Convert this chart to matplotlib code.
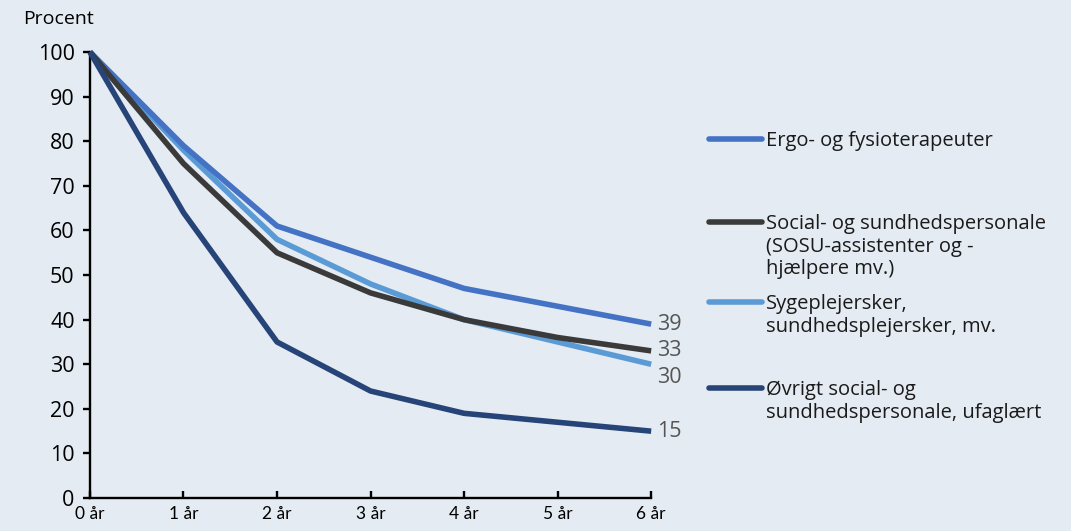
import matplotlib
matplotlib.use("Agg")
import matplotlib.pyplot as plt
from matplotlib.lines import Line2D

# data
years = [0, 1, 2, 3, 4, 5, 6]
year_labels = ["0 år", "1 år", "2 år", "3 år", "4 år", "5 år", "6 år"]

ergo = [100, 79, 61, 54, 47, 43, 39]
sosu = [100, 75, 55, 46, 40, 36, 33]
syge = [100, 78, 58, 48, 40, 35, 30]
ovrigt = [100, 64, 35, 24, 19, 17, 15]

names = [
    "Ergo- og fysioterapeuter",
    "Social- og sundhedspersonale\n(SOSU-assistenter og -\nhjælpere mv.)",
    "Sygeplejersker,\nsundhedsplejersker, mv.",
    "Øvrigt social- og\nsundhedspersonale, ufaglært",
]
series = [ergo, sosu, syge, ovrigt]
colors = ["#4472C4", "#3A3A3A", "#5B9BD5", "#264478"]
end_label_y = [39, 33, 27, 15]

bg = "#E4EBF2"
plt.rcParams["font.family"] = ["Open Sans", "DejaVu Sans"]

fig = plt.figure(figsize=(10.71, 5.31), dpi=100, facecolor=bg)
ax = fig.add_axes([0.084, 0.062, 0.524, 0.840], facecolor=bg)

# light series first so the dark ones sit on top like the reference
order = [2, 0, 1, 3]
for i in order:
    ax.plot(years, series[i], color=colors[i], lw=4, clip_on=False,
            solid_capstyle="butt", zorder=3)

for i in range(4):
    ax.text(years[-1] + 0.06, end_label_y[i], str(series[i][-1]),
            color="#555555", fontsize=15.5, va="center", ha="left")

ax.set_xlim(0, 6)
ax.set_ylim(0, 100)
ax.set_yticks(range(0, 101, 10))
ax.set_xticks(years)
ax.set_xticklabels(year_labels, family=["Lato", "DejaVu Sans"])

for s in ["top", "right"]:
    ax.spines[s].set_visible(False)
for s in ["left", "bottom"]:
    ax.spines[s].set_color("black")
    ax.spines[s].set_linewidth(1.7)

ax.tick_params(axis="y", direction="out", length=5, width=1.7,
               labelsize=15.5, pad=6, colors="black")
ax.tick_params(axis="x", direction="in", length=5, width=1.7,
               labelsize=12.5, pad=6, colors="black")

fig.text(0.022, 0.965, "Procent", fontsize=14, va="center", ha="left")

# legend drawn by hand to match the irregular spacing
leg_y = [139, 222, 302, 388]
for name, c, yp in zip(names, colors, leg_y):
    yf = 1 - yp / 531
    fig.add_artist(Line2D([709 / 1071, 762 / 1071], [yf, yf], color=c,
                          lw=4, solid_capstyle="round"))
    fig.text(766 / 1071, yf + 8 / 531, name, fontsize=14.5, va="top",
             ha="left", color="#1a1a1a", linespacing=1.18)

fig.savefig("out.png", dpi=100, facecolor=bg)
